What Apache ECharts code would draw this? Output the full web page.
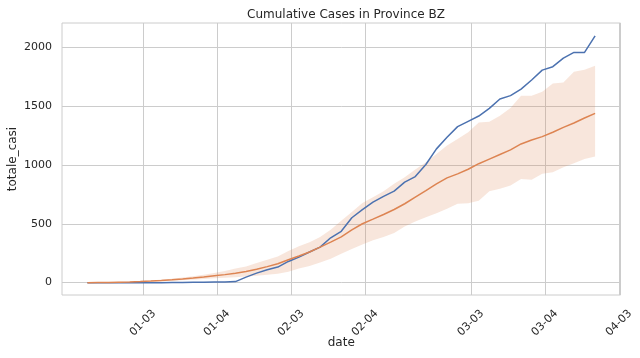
<!DOCTYPE html>
<html>
<head>
<meta charset="utf-8">
<script src="https://cdn.jsdelivr.net/npm/echarts@6/dist/echarts.min.js"></script>
<style>
  html, body { margin: 0; padding: 0; background: #fff; }
  #chart { width: 640px; height: 358px; }
</style>
</head>
<body>
<div id="chart"></div>
<script>
// daily samples, reported at 18:00
var dates = [
  '2020-02-24', '2020-02-25', '2020-02-26', '2020-02-27', '2020-02-28', '2020-02-29',
  '2020-03-01', '2020-03-02', '2020-03-03', '2020-03-04', '2020-03-05', '2020-03-06',
  '2020-03-07', '2020-03-08', '2020-03-09', '2020-03-10', '2020-03-11', '2020-03-12',
  '2020-03-13', '2020-03-14', '2020-03-15', '2020-03-16', '2020-03-17', '2020-03-18',
  '2020-03-19', '2020-03-20', '2020-03-21', '2020-03-22', '2020-03-23', '2020-03-24',
  '2020-03-25', '2020-03-26', '2020-03-27', '2020-03-28', '2020-03-29', '2020-03-30',
  '2020-03-31', '2020-04-01', '2020-04-02', '2020-04-03', '2020-04-04', '2020-04-05',
  '2020-04-06', '2020-04-07', '2020-04-08', '2020-04-09', '2020-04-10', '2020-04-11',
  '2020-04-12'
];
var bzCases = [
  0, 0, 0, 0, 0, 0, 0, 0, 1, 1, 3, 4,
  5, 6, 9, 47, 81, 110, 132, 180, 217, 260, 302, 381,
  436, 551, 620, 683, 732, 777, 853, 901, 1003, 1136, 1234, 1325,
  1370, 1415, 1480, 1560, 1588, 1644, 1721, 1805, 1834, 1907, 1955, 1955,
  2096
];
var meanCases = [
  0, 1, 2, 4, 6, 9, 13, 18, 24, 31, 39, 48,
  58, 68, 79, 94, 113, 136, 161, 195, 226, 260, 302, 344,
  388, 448, 500, 539, 579, 621, 670, 726, 782, 839, 890, 924,
  963, 1010, 1049, 1088, 1127, 1178, 1212, 1240, 1277, 1319, 1356, 1398,
  1438
];
var ciUpper = [
  0, 2, 4, 7, 10, 14, 19, 26, 34, 43, 54, 66,
  82, 98, 119, 138, 166, 195, 223, 268, 308, 344, 387, 449,
  525, 599, 677, 726, 777, 839, 895, 960, 1022, 1093, 1164, 1220,
  1277, 1361, 1367, 1418, 1483, 1588, 1588, 1622, 1692, 1700, 1791, 1808,
  1842
];
var ciLower = [
  0, 0, 1, 2, 3, 5, 8, 11, 15, 20, 25, 31,
  38, 42, 46, 52, 58, 66, 76, 93, 119, 141, 170, 203,
  245, 285, 324, 359, 387, 421, 477, 520, 556, 590, 627, 670,
  675, 695, 777, 797, 825, 881, 873, 924, 938, 980, 1014, 1051,
  1071
];
var tickDates = ['2020-03-01', '2020-03-08', '2020-03-15', '2020-03-22', '2020-04-01', '2020-04-08', '2020-04-15'];
var tickLabels = ['01-03', '01-04', '02-03', '02-04', '03-03', '03-04', '04-03'];
var yTicks = [0, 500, 1000, 1500, 2000];

// x position in days since the first date at midnight
var DAY = 86400000;
var t0 = Date.parse(dates[0] + 'T00:00:00Z');
function dayOf(d, hour) {
  return (Date.parse(d + 'T' + (hour || '00') + ':00:00Z') - t0) / DAY;
}

var xs = dates.map(function (d) { return dayOf(d, '18'); });
var span = xs[xs.length - 1] - xs[0];
var tickX = tickDates.map(function (d) { return dayOf(d); });

function pairs(vals) {
  return vals.map(function (v, i) { return [xs[i], v]; });
}

// confidence band as one polygon: upper edge forward, lower edge back
function renderBand(params, api) {
  if (params.dataIndex !== 0) return null;
  var pts = [];
  for (var i = 0; i < xs.length; i++) pts.push(api.coord([xs[i], ciUpper[i]]));
  for (var j = xs.length - 1; j >= 0; j--) pts.push(api.coord([xs[j], ciLower[j]]));
  return {
    type: 'polygon',
    shape: { points: pts },
    style: { fill: '#dd8452', opacity: 0.2 },
    silent: true
  };
}

var textColor = '#262626';
var gridColor = '#cccccc';
var font = 'DejaVu Sans';

var chart = echarts.init(document.getElementById('chart'));
chart.setOption({
  animation: false,
  textStyle: { fontFamily: font, color: textColor },
  title: {
    text: 'Cumulative Cases in Province BZ',
    left: 341,
    textAlign: 'center',
    top: 4,
    textStyle: { fontFamily: font, fontSize: 12, fontWeight: 'normal', color: textColor }
  },
  grid: {
    left: 62, right: 19.5, top: 23, bottom: 63,
    outerBoundsMode: 'none',
    containLabel: false,
    show: true, borderColor: gridColor, borderWidth: 1, backgroundColor: '#fff'
  },
  xAxis: {
    type: 'value',
    min: xs[0] - span * 0.05,
    max: xs[xs.length - 1] + span * 0.05,
    name: 'date',
    nameLocation: 'middle',
    nameGap: 42,
    nameMoveOverlap: false,
    nameTextStyle: { fontFamily: font, fontSize: 12, color: textColor },
    axisLine: { show: false },
    axisTick: { show: false, customValues: tickX },
    splitLine: { show: true, lineStyle: { color: gridColor, width: 1 } },
    axisLabel: {
      customValues: tickX,
      rotate: 45,
      margin: 28,
      align: 'center',
      verticalAlign: 'middle',
      fontFamily: font,
      fontSize: 11,
      color: textColor,
      formatter: function (v) {
        var k = tickX.indexOf(Math.round(v * 100) / 100);
        return k >= 0 ? tickLabels[k] : '';
      }
    }
  },
  yAxis: {
    type: 'value',
    min: -105,
    max: 2205,
    name: 'totale_casi',
    nameLocation: 'middle',
    nameGap: 43,
    nameMoveOverlap: false,
    nameTextStyle: { fontFamily: font, fontSize: 12, color: textColor },
    axisLine: { show: false },
    axisTick: { show: false, customValues: yTicks },
    splitLine: { show: true, lineStyle: { color: gridColor, width: 1 } },
    axisLabel: {
      customValues: yTicks, margin: 10, fontFamily: font, fontSize: 11, color: textColor,
      formatter: function (v) { return String(v); }
    }
  },
  series: [
    {
      name: 'ci',
      type: 'custom',
      renderItem: renderBand,
      data: pairs(meanCases),
      clip: true,
      silent: true
    },
    {
      name: 'BZ',
      type: 'line',
      data: pairs(bzCases),
      symbol: 'none',
      lineStyle: { color: '#4c72b0', width: 1.5 }
    },
    {
      name: 'mean',
      type: 'line',
      data: pairs(meanCases),
      symbol: 'none',
      lineStyle: { color: '#dd8452', width: 1.5 }
    }
  ]
});
</script>
</body>
</html>
